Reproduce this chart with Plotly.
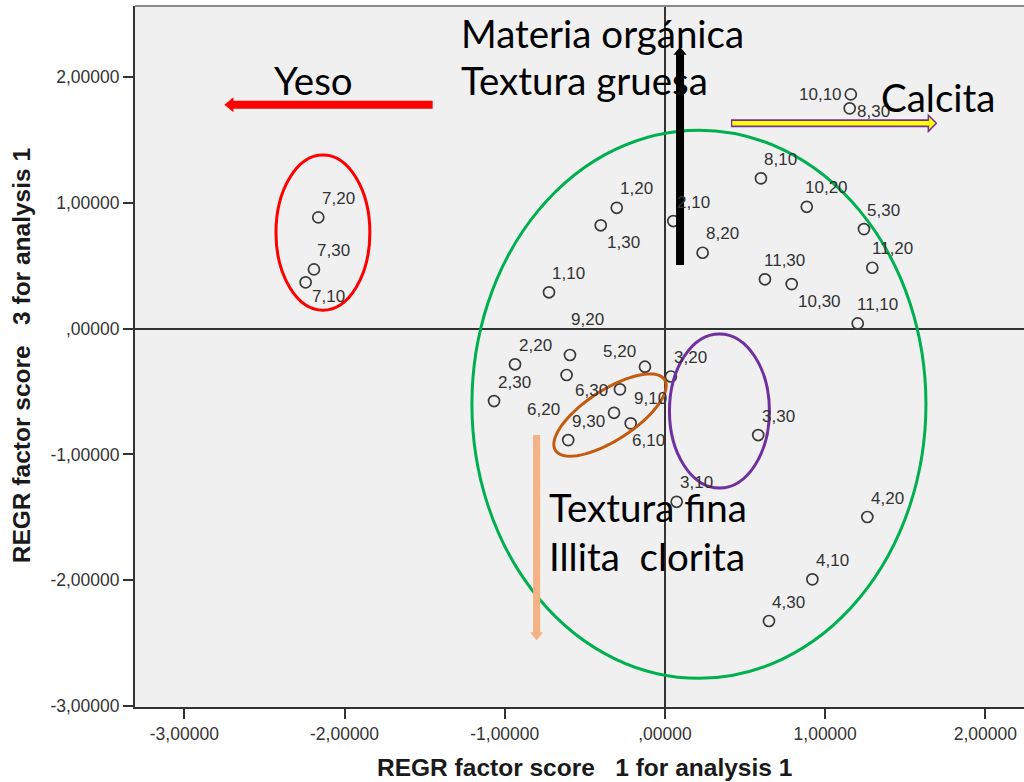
import numpy as np
import plotly.graph_objects as go

# Factor scores per sample (site,depth)
labels = ["7,20", "7,30", "7,10", "1,20", "1,30", "1,10", "2,10", "8,20",
          "8,10", "10,20", "5,30", "11,20", "11,30", "10,30", "11,10",
          "10,10", "8,30", "2,20", "9,20", "6,20", "2,30", "5,20", "6,30",
          "3,20", "9,10", "6,10", "9,30", "3,30", "3,10", "4,20", "4,10",
          "4,30"]
score1 = [-2.164, -2.191, -2.243, -0.301, -0.401, -0.724, 0.052, 0.235,
          0.599, 0.885, 1.242, 1.294, 0.624, 0.791, 1.203,
          1.160, 1.153, -0.936, -0.593, -0.614, -1.067, -0.125, -0.281,
          0.037, -0.318, -0.214, -0.604, 0.582, 0.073, 1.263, 0.920,
          0.649]
score3 = [0.883, 0.470, 0.367, 0.959, 0.820, 0.288, 0.854, 0.602,
          1.193, 0.967, 0.790, 0.483, 0.391, 0.353, 0.041,
          1.860, 1.749, -0.284, -0.210, -0.369, -0.576, -0.303, -0.483,
          -0.381, -0.669, -0.753, -0.886, -0.846, -1.376, -1.497, -1.992,
          -2.323]

tick_vals = [-3, -2, -1, 0, 1, 2]
tick_text = ["-3,00000", "-2,00000", "-1,00000", ",00000", "1,00000", "2,00000"]

x_range = [-3.308, 2.241]
y_range = [-3.006, 2.562]

# label placement around each marker (pixels, right / down)
default_offset = (20, -19)
label_offset = {
    "7,10": (23, 14), "1,30": (23, 17), "10,30": (28, 17), "10,10": (-30, 0),
    "8,30": (24, 3), "9,20": (18, -35), "6,20": (-23, 34), "5,20": (-25, -15),
    "6,30": (-28, 1), "9,10": (36, -14), "6,10": (18, 17),
}

TXT = "#333333"
fig = go.Figure()
fig.add_trace(go.Scatter(
    x=score1, y=score3, mode="markers",
    marker=dict(symbol="circle-open", size=11, color="#3a3a3a",
                line=dict(width=1.7, color="#3a3a3a")),
    hoverinfo="text", text=labels, showlegend=False,
))

annotations = []
for lab, xv, yv in zip(labels, score1, score3):
    dx, dy = label_offset.get(lab, default_offset)
    annotations.append(dict(
        x=xv, y=yv, xref="x", yref="y", text=lab, showarrow=False,
        xshift=dx, yshift=-dy, xanchor="center", yanchor="middle",
        font=dict(family="Liberation Sans, Arial", size=17, color=TXT)))

# group outlines
shapes = []
def ellipse(cx, cy, rx, ry, color):
    shapes.append(dict(type="circle", xref="x", yref="y",
                       x0=cx - rx, x1=cx + rx, y0=cy - ry, y1=cy + ry,
                       line=dict(color=color, width=3)))

ellipse(-2.135, 0.762, 0.293, 0.616, "#FF0000")
ellipse(0.212, -0.601, 1.417, 2.177, "#00B050")
ellipse(0.340, -0.655, 0.312, 0.612, "#7030A0")

# tilted outline around the 6/9 samples (pixel geometry anchored at centre)
t = np.linspace(0, 2 * np.pi, 73)
a_px, b_px, phi = 65, 25, np.deg2rad(33)
ex = a_px * np.cos(t) * np.cos(phi) - b_px * np.sin(t) * np.sin(phi)
ey = a_px * np.cos(t) * np.sin(phi) + b_px * np.sin(t) * np.cos(phi)
path = "M" + " L".join(f"{u:.2f},{v:.2f}" for u, v in zip(ex, ey)) + " Z"
shapes.append(dict(type="path", xref="x", yref="y", xsizemode="pixel",
                   ysizemode="pixel", xanchor=-0.343, yanchor=-0.687,
                   path=path, line=dict(color="#C55A11", width=3)))

# direction arrows: shaft in data units, head in pixels at the tip
def arrow(x0, y0, x1, y1, color, width, head):
    shapes.append(dict(type="line", xref="x", yref="y", x0=x0, y0=y0,
                       x1=x1, y1=y1, line=dict(color=color, width=width)))
    shapes.append(dict(type="path", xref="x", yref="y", xsizemode="pixel",
                       ysizemode="pixel", xanchor=x1, yanchor=y1, path=head,
                       fillcolor=color, line=dict(width=0)))

arrow(-1.450, 1.778, -2.700, 1.778, "#FF0000", 8, "M-8,0 L1,7.5 L1,-7.5 Z")
arrow(0.094, 0.504, 0.094, 2.190, "#000000", 8, "M0,6 L-6.5,-2 L6.5,-2 Z")
arrow(-0.801, -0.846, -0.801, -2.420, "#F4B183", 7, "M0,-7 L-6.5,1 L6.5,1 Z")

# Calcita arrow: yellow body with purple outline
cal_x0, cal_x1, cal_y = 0.412, 1.644, 1.630
shapes.append(dict(type="line", xref="x", yref="y", x0=cal_x0, y0=cal_y,
                   x1=cal_x1, y1=cal_y, line=dict(color="#7030A0", width=8)))
shapes.append(dict(type="line", xref="x", yref="y", x0=cal_x0 + 0.008,
                   y0=cal_y, x1=cal_x1 + 0.01, y1=cal_y,
                   line=dict(color="#FFFF00", width=4.5)))
shapes.append(dict(type="path", xref="x", yref="y", xsizemode="pixel",
                   ysizemode="pixel", xanchor=cal_x1, yanchor=cal_y,
                   path="M0,8 L8,0 L0,-8 Z", fillcolor="#FFFF00",
                   line=dict(color="#7030A0", width=1.5)))
shapes.append(dict(type="line", xref="x", yref="y", x0=cal_x1 - 0.01,
                   y0=cal_y, x1=cal_x1 + 0.004, y1=cal_y,
                   line=dict(color="#FFFF00", width=4.5)))

# top frame
shapes.append(dict(type="line", xref="paper", yref="paper", x0=0, x1=1,
                   y0=1, y1=1, line=dict(color="#8a8a8a", width=2)))

BIG = dict(family="Lato, Open Sans", size=38.5, color="#000000")
def label_text(txt, xv, yv):
    annotations.append(dict(x=xv, y=yv, xref="x", yref="y", text=txt,
                            showarrow=False, xanchor="left", yanchor="middle",
                            xshift=-3, font=BIG))

label_text("Materia orgánica", -1.267, 2.347)
label_text("Textura gruesa", -1.267, 1.974)
label_text("Yeso", -2.434, 1.974)
label_text("Calcita", 1.355, 1.839)
label_text("Textura fina", -0.718, -1.418)
label_text("Illita\u00a0 clorita", -0.718, -1.807)

TITLE = dict(family="Liberation Sans, Arial", size=24.5, color="#1a1a1a")
annotations.append(dict(x=0.506, y=-0.0856, xref="paper", yref="paper",
                        text="<b>REGR factor score\u00a0\u00a0 1 for analysis 1</b>",
                        showarrow=False, xanchor="center", yanchor="middle",
                        font=TITLE))
annotations.append(dict(x=-0.128, y=0.5007, xref="paper", yref="paper",
                        text="<b>REGR factor score\u00a0\u00a0 3 for analysis 1</b>",
                        showarrow=False, xanchor="center", yanchor="middle",
                        textangle=-90, font=TITLE))

axis_common = dict(
    tickvals=tick_vals, ticktext=tick_text, ticks="outside", ticklen=10,
    tickwidth=2, tickcolor="#333333", showgrid=False, showline=True,
    linecolor="#333333", linewidth=2, zeroline=True, zerolinecolor="#333333",
    zerolinewidth=1.5,
    tickfont=dict(family="Liberation Sans, Arial", size=17.5, color=TXT),
)

fig.update_layout(
    width=1024, height=782,
    margin=dict(l=135, r=0, t=6, b=75),
    paper_bgcolor="#FFFFFF", plot_bgcolor="#F0F0F0",
    xaxis=dict(range=x_range, **axis_common),
    yaxis=dict(range=y_range, **axis_common),
    shapes=shapes, annotations=annotations,
)

fig.write_html("out.html")
